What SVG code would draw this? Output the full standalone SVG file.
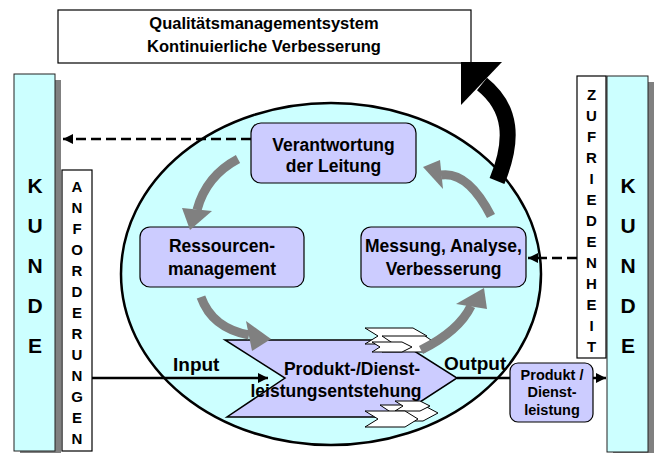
<svg xmlns="http://www.w3.org/2000/svg" width="656" height="453" viewBox="0 0 656 453">
  <style>
    text { font-family: "Liberation Sans", Arial, sans-serif; font-weight: bold; fill: #000; }
    .frame { fill: #fff; stroke: #000; stroke-width: 1.2; }
    .kunde { fill: #ccffff; stroke: #222; stroke-width: 1; }
    .shadow { fill: #808080; }
    .node { fill: #ccccff; stroke: #000; stroke-width: 1.2; }
    .chev { fill: #fff; stroke: #000; stroke-width: 1; }
    .cycle { fill: none; stroke: #808080; stroke-width: 9; }
    .cyclehead { fill: #808080; }
    .dash { fill: none; stroke: #000; stroke-width: 2.5; stroke-dasharray: 10 5; }
    .solid { fill: none; stroke: #000; stroke-width: 2.5; }
    .big { font-size: 21px; }
    .vert { font-size: 15px; }
    .lbl { font-size: 17.5px; }
    .io { font-size: 19px; }
    .small { font-size: 14.5px; }
    .title { font-size: 16.5px; }
  </style>
  <defs>
    <marker id="head" markerUnits="userSpaceOnUse" markerWidth="11" markerHeight="10" refX="10" refY="5" orient="auto">
      <path d="M0,0 L10,5 L0,10 Z" fill="#000"/>
    </marker>
  </defs>

  <!-- quality management system banner -->
  <g id="qms">
    <rect class="frame" x="58" y="10" width="413" height="53"/>
    <text class="title" x="264" y="29" text-anchor="middle">Qualitätsmanagementsystem</text>
    <text class="title" x="264" y="52" text-anchor="middle">Kontinuierliche Verbesserung</text>
  </g>

  <!-- customer, left -->
  <g id="kunde-left">
    <rect class="shadow" x="20" y="80" width="41" height="377"/>
    <rect class="kunde" x="14" y="74" width="41" height="377"/>
    <text class="big" text-anchor="middle">
      <tspan x="35" y="193">K</tspan><tspan x="35" y="233">U</tspan><tspan x="35" y="273">N</tspan><tspan x="35" y="313">D</tspan><tspan x="35" y="353">E</tspan>
    </text>
  </g>

  <!-- requirements -->
  <g id="anforderungen">
    <rect class="frame" x="62" y="170" width="30" height="281"/>
    <text class="vert" text-anchor="middle">
      <tspan x="77" y="192">A</tspan><tspan x="77" y="213">N</tspan><tspan x="77" y="234">F</tspan><tspan x="77" y="255">O</tspan><tspan x="77" y="276">R</tspan><tspan x="77" y="297">D</tspan><tspan x="77" y="318">E</tspan><tspan x="77" y="339">R</tspan><tspan x="77" y="360">U</tspan><tspan x="77" y="381">N</tspan><tspan x="77" y="402">G</tspan><tspan x="77" y="423">E</tspan><tspan x="77" y="444">N</tspan>
    </text>
  </g>

  <!-- customer, right -->
  <g id="kunde-right">
    <rect class="shadow" x="613" y="82" width="41" height="376"/>
    <rect class="kunde" x="607" y="76" width="41" height="376"/>
    <text class="big" text-anchor="middle">
      <tspan x="628" y="193">K</tspan><tspan x="628" y="233">U</tspan><tspan x="628" y="273">N</tspan><tspan x="628" y="313">D</tspan><tspan x="628" y="353">E</tspan>
    </text>
  </g>

  <!-- satisfaction -->
  <g id="zufriedenheit">
    <rect class="frame" x="577" y="76" width="29" height="282"/>
    <text class="vert" text-anchor="middle">
      <tspan x="591.5" y="100">Z</tspan><tspan x="591.5" y="121">U</tspan><tspan x="591.5" y="142">F</tspan><tspan x="591.5" y="163">R</tspan><tspan x="591.5" y="184">I</tspan><tspan x="591.5" y="205">E</tspan><tspan x="591.5" y="226">D</tspan><tspan x="591.5" y="247">E</tspan><tspan x="591.5" y="268">N</tspan><tspan x="591.5" y="289">H</tspan><tspan x="591.5" y="310">E</tspan><tspan x="591.5" y="331">I</tspan><tspan x="591.5" y="352">T</tspan>
    </text>
  </g>

  <!-- process model body -->
  <g id="system">
    <ellipse cx="331" cy="274" rx="210" ry="171" fill="#ccffff" stroke="#000" stroke-width="2.5"/>
  </g>

  <g id="verantwortung">
    <rect class="node" x="251" y="123" width="165" height="60" rx="10"/>
    <text class="lbl" x="333.5" y="151" text-anchor="middle">Verantwortung</text>
    <text class="lbl" x="333.5" y="172" text-anchor="middle">der Leitung</text>
  </g>

  <g id="ressourcen">
    <rect class="node" x="140" y="227" width="164" height="60" rx="10"/>
    <text class="lbl" x="222" y="252" text-anchor="middle">Ressourcen-</text>
    <text class="lbl" x="222" y="275" text-anchor="middle">management</text>
  </g>

  <g id="messung">
    <rect class="node" x="361" y="227" width="165" height="60" rx="10"/>
    <text class="lbl" x="443.5" y="252" text-anchor="middle">Messung, Analyse,</text>
    <text class="lbl" x="443.5" y="275" text-anchor="middle">Verbesserung</text>
  </g>

  <g id="entstehung">
    <polygon points="225,340 397,340 457,378 397,417 227,417 285,378" fill="#ccccff" stroke="#000" stroke-width="1.5"/>
    <polygon class="chev" points="365,328 413,328 427,336 413,344 365,344 378,336"/>
    <polygon class="chev" points="382,336 425,336 437,344 425,352 382,352 394,344"/>
    <polygon class="chev" points="372,342 402,342 412,347 402,352 372,352 380,347"/>
    <polygon class="chev" points="380,405 423,405 438,413 423,421 380,421 392,413"/>
    <polygon class="chev" points="395,401 420,401 430,406 420,411 395,411 403,406"/>
    <polygon class="chev" points="365,411 405,411 418,419 405,427 365,427 378,419"/>
    <text class="lbl" x="352" y="375" text-anchor="middle">Produkt-/Dienst-</text>
    <text class="lbl" x="336" y="397" text-anchor="middle">leistungsentstehung</text>
  </g>

  <g id="ergebnis">
    <rect class="node" x="510" y="363" width="83" height="59" rx="8"/>
    <text class="small" x="552" y="380" text-anchor="middle">Produkt /</text>
    <text class="small" x="552" y="397" text-anchor="middle">Dienst-</text>
    <text class="small" x="552" y="415" text-anchor="middle">leistung</text>
  </g>

  <!-- connectors -->
  <g id="connectors">
    <!-- improvement cycle -->
    <path class="cycle" d="M238,159 Q206,176 197,210"/>
    <polygon class="cyclehead" points="182,208 212,211 190,230"/>
    <path class="cycle" d="M491,216 Q468,171 441,175"/>
    <polygon class="cyclehead" points="423,167 440,160 443,189"/>
    <path class="cycle" d="M201,297 Q212,328 249,335"/>
    <polygon class="cyclehead" points="246,321 252,351 271,339"/>
    <path class="cycle" d="M421,350 Q459,331 471,306"/>
    <polygon class="cyclehead" points="456,304 487,309 484,288"/>

    <!-- feedback into the management system -->
    <path d="M497,181 C514,140 512,108 482,84" fill="none" stroke="#000" stroke-width="16"/>
    <polygon points="461,62 502,62 461,105" fill="#000"/>

    <!-- customer information flows -->
    <path class="dash" d="M251,139 L63,139" marker-end="url(#head)"/>
    <path class="dash" d="M577,258 L528,258" marker-end="url(#head)"/>

    <!-- input / output -->
    <path class="solid" d="M92,378 L268,378" marker-end="url(#head)"/>
    <text class="io" x="173" y="371">Input</text>
    <path class="solid" d="M457,378 L510,378"/>
    <text class="io" x="444" y="370">Output</text>
    <path class="solid" d="M593,378 L606,378" marker-end="url(#head)"/>
  </g>
</svg>
